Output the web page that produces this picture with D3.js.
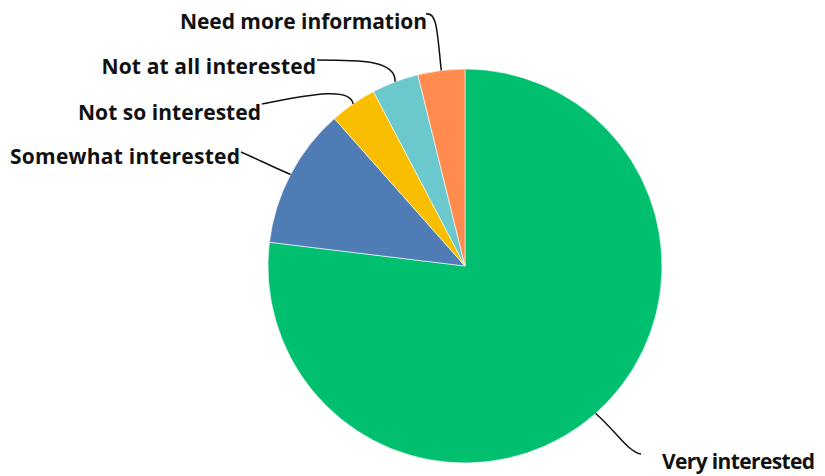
<!DOCTYPE html>
<html><head><meta charset="utf-8">
<script src="https://cdn.jsdelivr.net/npm/d3@7"></script>
<style>html,body{margin:0;padding:0;background:#fff;}svg{display:block;}</style>
</head><body>
<svg id="chart" width="825" height="476"></svg>
<script>
const categories = ["Very interested","Somewhat interested","Not so interested","Not at all interested","Need more information"];
const values = [20, 3, 1, 1, 1];
const colors = ["#00BF6F","#507CB6","#F9BE00","#6BC8CD","#FF8B4F"];

const svg = d3.select("#chart");
const cx = 465, cy = 266, R = 197;
const g = svg.append("g").attr("transform", `translate(${cx},${cy})`);
const pie = d3.pie().sort(null).value(d => d)(values);
const arc = d3.arc().innerRadius(0).outerRadius(R);
g.selectAll("path.slice").data(pie).enter().append("path")
  .attr("class","slice").attr("d", arc)
  .attr("fill", (d,i) => colors[i]).attr("stroke","#fff").attr("stroke-width",0.6);

// label layout: left x, baseline y, text width, leader start and control points
const layout = [
  {x:662, y:469, w:153, from:[641,454], ctrl:[[628,452],[615,430]]},
  {x:10,  y:164, w:230, from:[241,152], ctrl:[[255,158],[275,168]]},
  {x:78,  y:119.5, w:183, from:[262,104], ctrl:[[300,97],[350,85]]},
  {x:101.5, y:73.5, w:214.5, from:[317,60],  ctrl:[[360,60],[396,60]]},
  {x:180, y:29,  w:247, from:[426,14],  ctrl:[[437,12],[437,30]]}
];
const font = "'Open Sans', sans-serif";
pie.forEach((d,i) => {
  const a = (d.startAngle + d.endAngle)/2;
  const ex = cx + R*Math.sin(a), ey = cy - R*Math.cos(a);
  const L = layout[i];
  const p = d3.path();
  p.moveTo(L.from[0], L.from[1]);
  p.bezierCurveTo(L.ctrl[0][0], L.ctrl[0][1], L.ctrl[1][0], L.ctrl[1][1], ex, ey);
  svg.append("path").attr("d", p.toString()).attr("fill","none")
    .attr("stroke","#111").attr("stroke-width",1.5);
  svg.append("text").attr("x", L.x).attr("y", L.y).attr("text-anchor", "start")
    .attr("font-family", font).attr("font-weight", 700).attr("font-size", 21)
    .attr("textLength", L.w).attr("lengthAdjust", "spacing")
    .attr("fill","#111").text(categories[i]);
});
</script>
</body></html>
